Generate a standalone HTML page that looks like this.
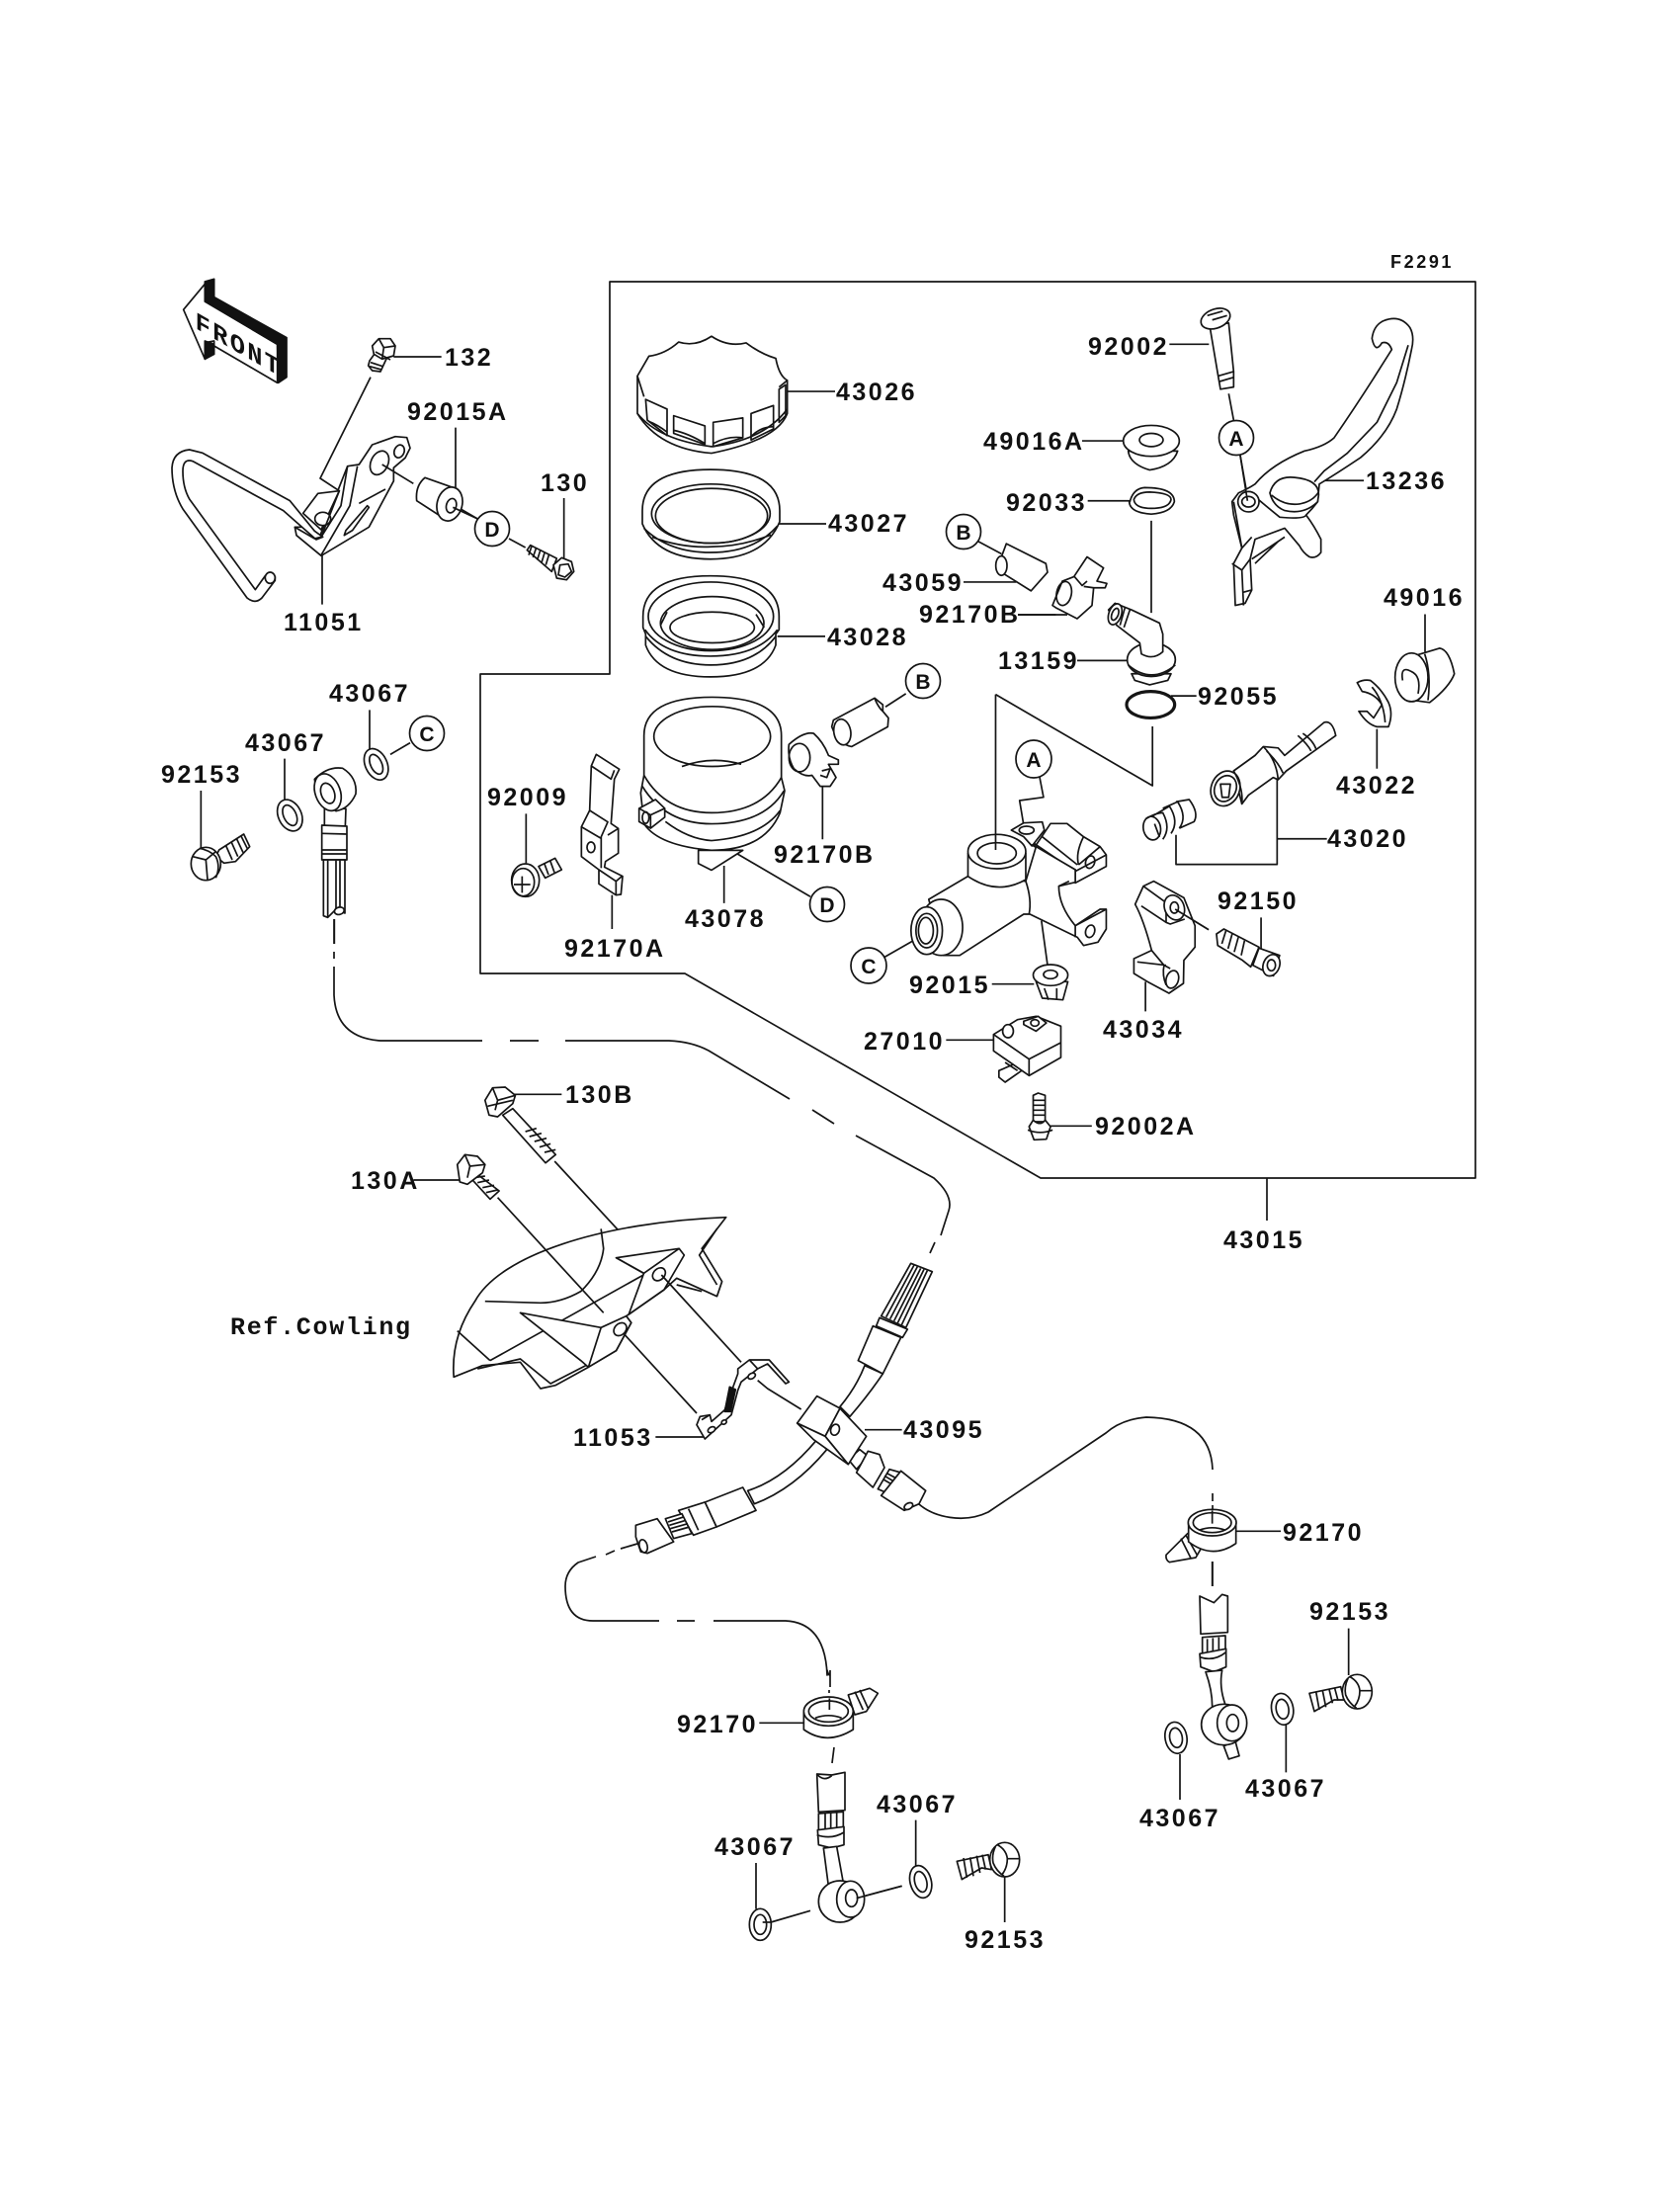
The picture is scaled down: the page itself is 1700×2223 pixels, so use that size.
<!DOCTYPE html>
<html><head><meta charset="utf-8"><title>Front Master Cylinder</title>
<style>
html,body{margin:0;padding:0;background:#fff}
svg{display:block}
svg *{vector-effect:non-scaling-stroke}
svg{fill:#fff;stroke:#151515;stroke-width:1.7;stroke-linejoin:round;stroke-linecap:butt}
.n{fill:none}
.k{fill:#111;stroke:#111}
text{stroke:none;fill:#111;font-family:"Liberation Sans",sans-serif;font-weight:700}
.l{font-size:25px;letter-spacing:2.5px}
.s{font-size:18px;letter-spacing:2.6px}
.m{font-family:"Liberation Mono",monospace;font-size:25px;letter-spacing:1.7px;font-weight:700}
.c{font-size:21px;text-anchor:middle}
</style></head><body>
<svg width="1700" height="2223" viewBox="0 0 1700 2223" xmlns="http://www.w3.org/2000/svg">
<rect x="0" y="0" width="1700" height="2223" style="stroke:none"/>

<!-- Assembly box -->
<g class="n">
<path d="M617,285H1493V1192H1053L693,985H486V682H617Z"/>
<path d="M1282,1192V1235"/>
<!-- upper hose -->
<path d="M338,930V955M338,963V970M338,978V1007Q340,1050 385,1053H488M516,1053H545M572,1053H677Q700,1054 717,1063L799,1112M822,1123L844,1137M866,1149L945,1192Q965,1210 960,1225L952,1250M946,1257L941,1268"/>
<!-- right hose -->
<path d="M930,1522C945,1535 975,1542 1000,1530L1119,1450Q1135,1436 1160,1434Q1225,1435 1227,1487M1227,1511V1519M1227,1523V1542"/>
<path d="M1227,1580V1605"/>
<!-- left hose -->
<path d="M645,1562L628,1567M622,1569L613,1573M603,1575L585,1581Q572,1590 572,1605Q572,1640 600,1640H667M685,1640H703M722,1640H795Q835,1642 837,1695V1690Q840,1700 840,1690M840,1690V1707M839,1710V1713M839,1718V1730"/>
<path d="M844,1768L842,1784"/>
</g>

<!-- ============ ZOOM 1 group ============ -->
<g transform="translate(150,250) scale(.33333)">
<!-- FRONT arrow -->
<path d="M107,190L172,112V165L392,295V412L200,300V285L172,290V340Z"/>
<path class="k" d="M172,105L200,97V152L420,275V395L395,412L392,295L172,165Z"/>
<path class="k" d="M172,285L200,295V325L172,340Z"/>
<text transform="translate(143,246) matrix(1,.57,0,1,0,0)" style="font-family:'Liberation Mono',monospace;font-size:76px;letter-spacing:7px;font-weight:700">FRONT</text>
<!-- bracket plate -->
<path d="M525,937L450,875L445,850L470,850L520,880L605,665L640,660L680,600L750,575L785,578L795,610L780,640L745,670L745,710L670,850Z"/>
<path class="n" d="M635,665L612,785L525,935M605,665L585,785L525,880"/>
<ellipse cx="702" cy="655" rx="26" ry="38" transform="rotate(25 702 655)"/>
<ellipse cx="762" cy="620" rx="15" ry="20" transform="rotate(20 762 620)"/>
<path d="M595,875L600,860L665,785L670,790L620,860Z"/>
<path class="n" d="M640,778L720,735"/>
<path d="M470,808L515,748L580,740L525,858Z"/>
<ellipse cx="530" cy="825" rx="24" ry="20"/>
<!-- rod -->
<path d="M355,998Q370,985 385,1000V1012L345,1065Q325,1085 300,1065L105,795Q72,740 72,670Q75,620 125,615L165,625L430,770L505,862L530,880L510,888L410,800L135,650Q105,640 105,680Q105,730 125,765L325,1040Z"/>
<ellipse cx="370" cy="1004" rx="15" ry="17"/>
<path class="n" d="M445,850L505,885L525,880L580,740L522,702L675,395"/>
<!-- bolt 132 -->
<path d="M672,345L690,320L725,335L705,378L680,375L668,360Z"/>
<path class="n" d="M675,350L712,362M672,362L708,372"/>
<path d="M680,300L700,278L735,278L750,300L745,330L710,340L685,325Z"/>
<path class="n" d="M700,278L715,305L750,300M715,305L710,340M690,318L735,342"/>
<path class="n" d="M745,333H890M528,935V1085M933,548V730M1262,762V945M710,660L805,718M940,790L1000,825M1095,885L1145,912"/>
<!-- bushing -->
<path d="M840,700L925,730L900,825L815,770Q810,725 840,700Z"/>
<ellipse cx="915" cy="780" rx="38" ry="52" transform="rotate(15 915 780)"/>
<ellipse cx="920" cy="785" rx="15" ry="22" transform="rotate(15 920 785)"/>
<path class="n" d="M925,790L1000,825"/>
<!-- bolt 130 -->
<path d="M1150,920L1160,905L1240,945L1225,985Z"/>
<path class="n" d="M1165,905L1155,935M1178,912L1168,942M1191,918L1181,950M1204,925L1194,958M1217,932L1207,965"/>
<path d="M1230,965L1255,943L1285,955L1292,985L1270,1010L1240,1005Z"/>
<path class="n" d="M1250,965L1275,962L1285,985L1265,1002L1245,995Z"/>
</g>
<circle cx="498" cy="535" r="17.5"/>

<!-- ============ ZOOM 2 group ============ -->
<g transform="translate(600,280) scale(.33333,.44643)">
<g class="n"><path d="M590,260H735M565,560H708M560,815H705M1125,692H1285M1290,766H1440M697,1155V1275M398,1335V1420M420,1300L660,1405M888,975L950,945M1170,600L1240,628"/></g>
<!-- cap -->
<path d="M135,225L170,180Q220,175 260,148Q310,160 360,135Q410,160 465,150Q510,175 555,185Q565,225 590,235V310Q560,370 360,400Q200,390 135,310Z"/>
<path class="n" d="M135,225L155,272M590,235L565,250"/>
<path d="M160,278L225,300V360L165,325Z"/><path d="M245,315L340,338V380L245,355Z"/>
<path d="M365,330L455,320V365L365,385Z"/><path d="M480,310L548,292V345L480,370Z"/>
<path d="M565,255L585,245V315L565,330Z"/>
<path class="n" d="M170,328Q195,335 225,352M245,348Q290,355 340,378M365,378Q410,360 455,365M480,362Q510,340 548,340"/>
<path class="n" d="M135,310Q200,370 360,385Q520,370 590,300"/>
<!-- ring 43027 -->
<path d="M150,530Q150,437 357,437Q567,437 567,530V555Q520,640 357,640Q195,640 150,560Z"/>
<ellipse cx="358" cy="537" rx="180" ry="67" class="n"/>
<ellipse cx="360" cy="542" rx="170" ry="62" class="n"/>
<path class="n" d="M155,570Q230,625 357,625Q490,625 560,565M180,590Q270,615 357,612Q450,612 540,585"/>
<!-- ring 43028 -->
<path d="M152,770Q152,678 357,678Q565,678 565,770V800L555,810V835Q520,907 357,907Q195,907 160,835V810L152,795Z"/>
<ellipse cx="358" cy="770" rx="190" ry="78" class="n"/>
<path class="n" d="M158,800Q215,860 357,860Q500,860 560,800M160,815Q230,880 357,880Q490,880 555,815"/>
<ellipse cx="362" cy="785" rx="157" ry="60" class="n"/>
<ellipse cx="362" cy="795" rx="128" ry="35" class="n"/>
<path class="n" d="M205,790L225,760M520,795L495,765"/>
<!-- reservoir -->
<path d="M155,1040Q155,953 362,953Q572,953 572,1040V1135L582,1165L568,1215Q520,1300 360,1300Q200,1290 155,1240L145,1170L155,1130Z"/>
<ellipse cx="362" cy="1042" rx="177" ry="68" class="n"/>
<path class="n" d="M270,1110Q360,1085 450,1105M155,1130Q220,1215 360,1215Q510,1215 572,1135M150,1155Q220,1240 360,1240Q520,1240 580,1165M220,1235Q290,1275 360,1278Q510,1270 568,1210"/>
<path d="M140,1205L190,1185L218,1205V1225L175,1250L140,1235Z"/>
<path class="n" d="M140,1205L175,1220V1250M175,1220L218,1205"/>
<ellipse cx="160" cy="1226" rx="10" ry="13" class="n"/>
<path d="M320,1300V1330L360,1345L455,1300Z"/>
<!-- clamp lower -->
<path d="M595,1060Q640,1030 670,1035Q700,1055 715,1085L745,1095V1105L715,1105L738,1135L720,1155H690L665,1130Q640,1135 610,1115Q590,1090 595,1060Z"/>
<ellipse cx="627" cy="1090" rx="32" ry="32" class="n"/>
<path class="n" d="M695,1120L720,1115L710,1135L690,1130"/>
<!-- tube B lower -->
<path d="M730,1005L855,955L880,970V985L897,1000L895,1020L785,1065Q745,1060 725,1020Z"/>
<ellipse cx="757" cy="1032" rx="25" ry="30" transform="rotate(-25 757 1032)"/>
<path class="n" d="M855,955Q865,975 880,985"/>
<!-- tube B upper -->
<path d="M1240,635L1255,605L1375,650L1380,670L1330,712L1240,670Z"/>
<ellipse cx="1240" cy="655" rx="17" ry="22"/>
</g>
<circle cx="975" cy="538" r="17.5"/><circle cx="934" cy="689" r="17.5"/><circle cx="837" cy="915" r="17.5"/>

<!-- ============ ZOOM 10 group ============ -->
<g transform="translate(480,740) scale(.33333)">
<path class="n" d="M157,250V400M418,497V600"/>
<path d="M355,105L370,70L440,115L425,145L415,280L437,295V370L398,395L395,412L450,440L445,495L430,497L378,463V420L325,380V290L350,240Z"/>
<path class="n" d="M355,105L415,145L425,118M350,240L405,275L385,320V415M325,290L385,325M378,420L430,455L448,440M430,455V497M405,315L437,295"/>
<ellipse cx="354" cy="352" rx="12" ry="16" class="n"/>
<path d="M195,410L245,385L265,420L215,445Z"/>
<path class="n" d="M212,400L225,435M230,392L243,428"/>
<ellipse cx="155" cy="452" rx="42" ry="50"/>
<ellipse cx="148" cy="458" rx="34" ry="42" class="n"/>
<path class="n" d="M120,465H170M145,440V490"/>
</g>

<!-- ============ ZOOM 3 group ============ -->
<g transform="translate(1000,280) scale(.33333,.44643)">
<g class="n"><path d="M550,153H670M730,265L745,325M765,405L785,490M285,372H410M302,508H430M495,553V762M270,870H425M555,950H632M570,1265V1332H877V1130M877,1274H1028M1180,1025V1115M1326,765V850M1140,462H1020M90,766H205"/></g>
<!-- pin 92002 -->
<path d="M672,110L730,105L745,215V250L705,255L698,225Z"/>
<path class="n" d="M698,225L745,215M700,238L745,228"/>
<ellipse cx="690" cy="95" rx="45" ry="22" transform="rotate(-12 690 95)"/>
<path class="n" d="M665,88L712,78M680,98L725,88"/>
<!-- lever -->
<path d="M1165,140Q1170,110 1200,100Q1250,85 1280,115Q1295,135 1285,165Q1265,240 1240,300Q1210,360 1130,410Q1060,445 1005,470L1000,510Q985,525 965,540Q990,565 1010,595V625Q995,640 975,635Q955,625 945,610L900,570L810,595L795,640L800,710L780,740L750,745L745,650L770,615L745,540L740,510L760,490Q790,480 810,470Q860,425 960,395Q1020,385 1050,365Q1110,300 1170,230L1225,165Q1215,145 1195,150Q1175,175 1165,140Z"/>
<path class="n" d="M1275,155L1240,240L1180,330L1090,400L1020,440L990,465M770,615L800,590M800,640L900,590M810,650L880,600M740,650L770,665L775,745M770,665L795,640M775,715L800,710M745,510L770,615M820,505Q860,530 885,545Q960,550 965,540"/>
<path d="M855,490Q870,450 930,455Q1005,460 1003,495L1000,510Q960,540 900,530Q865,520 855,490Z"/>
<path class="n" d="M860,495Q900,520 945,515Q985,510 1003,488"/>
<ellipse cx="790" cy="510" rx="32" ry="23"/>
<ellipse cx="790" cy="510" rx="20" ry="12"/>
<path class="n" d="M765,405L787,508"/>
<!-- 49016A -->
<path d="M425,395Q430,425 490,438Q560,430 575,395Z"/>
<ellipse cx="495" cy="372" rx="85" ry="35"/>
<ellipse cx="495" cy="370" rx="36" ry="15"/>
<!-- circlip -->
<path class="n" d="M430,510Q440,480 475,478Q565,478 565,510Q555,535 495,538Q430,535 428,510ZM442,505Q450,488 490,488Q555,490 555,505Q550,525 495,525Q445,525 442,505Z"/>
<!-- clamp 92170B top -->
<path d="M195,745L225,690L260,680L300,635L350,660L330,690L360,695L355,705L320,705L315,745L270,775L205,750Z"/>
<ellipse cx="230" cy="718" rx="22" ry="28" transform="rotate(25 230 718)" class="n"/>
<path class="n" d="M262,680L285,700L300,690M290,702L320,705"/>
<!-- grommet 13159 -->
<path d="M435,900L445,915L490,925L545,915L555,900Z"/>
<ellipse cx="495" cy="868" rx="73" ry="38"/>
<path class="n" d="M425,880Q495,925 568,880"/>
<path d="M365,755L385,740L435,755L520,785L530,810V850Q500,870 465,855L460,830L390,790Z"/>
<ellipse cx="385" cy="765" rx="18" ry="26" transform="rotate(35 385 765)"/>
<ellipse cx="385" cy="765" rx="9" ry="15" transform="rotate(35 385 765)"/>
<path class="n" d="M415,750L400,790M430,755L412,795"/>
<!-- O-ring -->
<ellipse cx="493" cy="970" rx="73" ry="30" class="n" style="stroke-width:3.2"/>
<!-- spring -->
<path d="M480,1225L600,1185L635,1225L520,1280Z" style="fill:#fff;stroke:none"/>
<ellipse cx="497" cy="1250" rx="25" ry="28" transform="rotate(-45 497 1250)"/>
<path class="n" d="M480,1228Q510,1215 530,1215Q555,1250 530,1275M500,1222L550,1200Q580,1235 555,1262M530,1205L575,1190Q605,1225 580,1250M570,1190L610,1185Q640,1215 625,1235L580,1250M505,1240L520,1270"/>
<!-- piston -->
<path d="M745,1120L810,1085L835,1065L880,1068L900,1085L1020,1010Q1045,1005 1055,1040L905,1120L880,1140L865,1135L790,1175L770,1195Z"/>
<ellipse cx="720" cy="1160" rx="46" ry="38" transform="rotate(-25 720 1160)"/>
<ellipse cx="720" cy="1160" rx="35" ry="28" transform="rotate(-25 720 1160)" class="n"/>
<path d="M705,1150L735,1150L730,1180L710,1180Z" class="n"/>
<path class="n" d="M745,1120Q775,1160 770,1195M835,1065Q875,1095 880,1140M845,1075Q880,1100 895,1125M940,1040Q970,1060 980,1075M955,1035Q985,1050 995,1070"/>
<!-- E-clip -->
<path d="M1120,920Q1140,912 1160,915Q1195,935 1215,965Q1230,990 1215,1020L1180,1020Q1150,1015 1125,985L1150,985L1170,1000L1195,970Q1175,945 1135,940Z"/>
<path class="n" d="M1165,930Q1200,960 1205,1010"/>
<!-- bushing 49016 -->
<path d="M1290,860L1370,842Q1400,845 1415,900Q1400,930 1340,965L1290,960Z"/>
<ellipse cx="1285" cy="908" rx="50" ry="55"/>
<path class="n" d="M1258,915Q1250,880 1285,895Q1315,905 1305,945"/>
<path class="n" d="M1325,855Q1345,900 1335,960"/>
</g>
<circle cx="1251" cy="443" r="17.5"/>

<!-- ============ ZOOM 4 group (non-uniform) ============ -->
<g transform="translate(850,700) scale(.41771,.33333)">
<g class="n"><path d="M108,805L185,750M488,695L505,850M368,887H470M740,880V970M812,660L893,722M1020,685V780M257,1057H372M510,1318H610M483,255L493,320L435,330L447,420"/></g>
<!-- master cylinder body -->
<path d="M415,420L445,398L490,395L495,420L465,468L445,440Z"/>
<path d="M475,465L510,400H550L590,440L630,470L645,495V530L570,580V540L465,465Z"/>
<path class="n" d="M490,440L575,525M470,460L570,545M590,440Q570,490 578,525M578,525L630,470M570,545L645,495"/>
<path d="M310,560L215,630L250,800H290L445,675L460,675L575,745L590,770L625,760L645,720V660L630,660L570,710Q530,650 530,590L570,578V540L475,470L450,575Z"/>
<ellipse cx="245" cy="715" rx="52" ry="85"/>
<ellipse cx="210" cy="725" rx="38" ry="72"/>
<ellipse cx="210" cy="725" rx="26" ry="52" class="n"/>
<ellipse cx="208" cy="725" rx="18" ry="40" class="n"/>
<path class="n" d="M450,575Q465,630 458,675M530,590L555,575M570,710V745M645,660L570,710"/>
<ellipse cx="606" cy="517" rx="11" ry="19" transform="rotate(10 606 517)" class="n"/>
<ellipse cx="606" cy="727" rx="11" ry="19" transform="rotate(10 606 727)" class="n"/>
<path d="M310,490V560Q380,620 450,570V490Z"/>
<ellipse cx="380" cy="485" rx="70" ry="52"/>
<ellipse cx="380" cy="490" rx="47" ry="32"/>
<ellipse cx="452" cy="420" rx="18" ry="12" class="n"/>
<path class="n" d="M377,8V480M377,8L757,285V105"/>
<!-- nut 92015 -->
<path d="M475,880L490,930L540,935L552,880Z"/>
<path class="n" d="M495,900L505,935M525,900L525,935"/>
<ellipse cx="510" cy="860" rx="42" ry="32"/>
<ellipse cx="510" cy="858" rx="17" ry="13"/>
<!-- clamp 43034 -->
<path d="M715,645L735,590L760,575L833,625L860,710V775L833,815L832,885L797,915L745,880L712,855V810L755,785Q735,690 715,645Z"/>
<path class="n" d="M730,650L790,700L800,705L835,690M755,785L785,830L800,840M720,820L790,830M735,590L790,640M790,640V700M785,830Q780,860 790,890"/>
<ellipse cx="810" cy="655" rx="24" ry="38" transform="rotate(-12 810 655)"/>
<ellipse cx="810" cy="655" rx="10" ry="17" class="n"/>
<ellipse cx="805" cy="873" rx="15" ry="27" transform="rotate(10 805 873)" class="n"/>
<path class="n" d="M812,660L893,722"/>
<!-- bolt 92150 -->
<path d="M912,735L930,720L1015,775L995,835L975,815L915,770Z"/>
<path class="n" d="M935,725L925,765M950,735L940,780M965,745L955,790M980,755L972,800"/>
<path d="M1015,778L1065,800L1050,862L1000,830Z"/>
<ellipse cx="1045" cy="830" rx="20" ry="33" transform="rotate(12 1045 830)"/>
<ellipse cx="1045" cy="830" rx="10" ry="17" class="n"/>
<!-- switch -->
<path d="M385,1150L440,1120V1150L400,1185L385,1170Z"/>
<path d="M372,1040L430,995L475,985L535,1015V1110L458,1165L372,1090Z"/>
<path class="n" d="M372,1040L458,1115L535,1065M458,1115V1165M400,1125L430,1150"/>
<path d="M445,1000L480,985L500,1005L475,1030L445,1010Z"/>
<ellipse cx="472" cy="1005" rx="10" ry="10" class="n"/>
<ellipse cx="407" cy="1030" rx="13" ry="20"/>
<!-- screw 92002A -->
<path d="M468,1225L480,1218L497,1225V1305H468Z"/>
<path class="n" d="M468,1240H497M468,1255H497M468,1270H497M468,1285H497"/>
<path d="M458,1320L468,1300Q485,1320 497,1300L510,1320L500,1358L470,1360Z"/>
<path class="n" d="M455,1330Q485,1345 515,1330"/>
</g>
<ellipse cx="1046" cy="768" rx="18" ry="19"/>
<circle cx="879" cy="977" r="18"/>

<!-- Zoom 5 group: cowling, long bolts -->
<g transform="translate(200,1080) scale(.5102,.33333)">
<g class="n">
<path d="M625,82H722M428,342H520M708,285L880,570"/>
</g>
<path d="M1048,455C800,470 600,570 550,710C510,800 505,880 508,940L565,905L640,895L680,975L710,965L775,910L830,860L860,775L850,755L925,675L950,640L1030,695L1040,650L1000,550Z"/>
<path class="n" d="M1030,490L995,570L1030,660M800,490L805,550Q800,620 760,680Q720,715 680,715L570,710M580,890L890,625M555,915L640,885L700,960L770,905M950,660L1000,680"/>
<path d="M830,578L955,550L965,570L925,675L855,750L885,625Z"/>
<path class="n" d="M830,578L885,625L955,550"/>
<ellipse cx="915" cy="628" rx="12" ry="20" transform="rotate(15 915 628)"/>
<path d="M640,745L800,790L850,755L860,775L830,860L775,910L760,890Z"/>
<path class="n" d="M800,790L775,910"/>
<ellipse cx="838" cy="795" rx="12" ry="20" transform="rotate(15 838 795)"/>
<path class="n" d="M595,395L805,745M515,800L580,890"/>
<!-- bolt B -->
<path d="M605,145L625,125L710,265L690,290Z"/>
<path class="n" d="M650,195L672,185M658,210L682,200M668,225L692,215M678,242L700,232M688,258L710,250"/>
<path d="M570,100L585,62L610,60L630,85L625,110L595,150L578,145Z"/>
<path class="n" d="M585,62L595,100L630,85M595,100L590,130M575,118L625,100"/>
<!-- bolt A -->
<path d="M535,325L555,325L598,375L580,400Z"/>
<path class="n" d="M548,335L570,330M555,350L578,342M565,365L588,358M572,380L595,372"/>
<path d="M515,295L530,265L555,270L570,295L565,320L535,355L520,348Z"/>
<path class="n" d="M530,265L540,300L570,295M540,300L535,335"/>
</g>

<!-- Zoom 6 group: 11053, junction -->
<g transform="translate(550,1250) scale(.33333)">
<g class="n">
<path d="M358,120L600,385M245,300L465,540M650,440L680,465L782,528M975,590H1088M340,612H485"/>
</g>
<!-- bracket 11053 -->
<path d="M590,405L625,378H685L745,445L735,450L680,390L650,405L600,445L590,470L570,545L490,618L465,575L475,550L505,545L510,565L550,530L590,420Z"/>
<ellipse cx="632" cy="427" rx="12" ry="8" transform="rotate(-30 632 427)"/>
<ellipse cx="510" cy="590" rx="12" ry="8" transform="rotate(-30 510 590)"/>
<ellipse cx="548" cy="567" rx="8" ry="6" transform="rotate(-30 548 567)"/>
<path class="k" d="M565,460L583,468L568,535L550,535Z"/>
<path class="n" d="M625,378L650,405M480,560L505,545"/>
<!-- upper hose stub -->
<path d="M975,395Q950,460 900,520L930,550Q990,480 1030,420Z"/>
<path d="M1000,275L1085,310L1030,420L955,380Z"/>
<path d="M1020,250L1105,285L1090,310L1010,275Z"/>
<path d="M1115,85L1180,110L1100,280L1025,245Z"/>
<path class="n" d="M1125,90L1040,248M1135,95L1052,254M1145,100L1064,260M1155,103L1075,266M1165,107L1087,272"/>
<!-- lower hose stub -->
<path d="M830,620Q730,740 620,775L640,815Q760,770 860,650Z"/>
<path d="M490,810L605,765L645,835L525,885Z"/>
<path d="M410,835L490,810L525,885L455,910Z"/>
<path class="n" d="M440,830L470,895"/>
<path d="M370,860L420,845L450,905L395,920Z"/>
<path class="n" d="M378,870L425,855M382,880L432,865M385,890L438,875M390,900L443,885"/>
<path d="M280,880L345,860L395,930L315,965L295,960L280,915Z"/>
<ellipse cx="303" cy="943" rx="12" ry="20" transform="rotate(-15 303 943)"/>
<!-- right stub -->
<path d="M925,680L960,650L985,670L950,710Z"/>
<path d="M950,720L985,655L1020,665L1035,705L1000,765Z"/>
<path d="M1015,770L1050,710L1085,720L1050,785Z"/>
<path class="n" d="M1030,740L1065,760M1035,730L1072,752M1042,722L1080,742"/>
<path d="M1025,790L1085,715L1160,775L1140,815L1095,835Z"/>
<ellipse cx="1108" cy="822" rx="14" ry="9" transform="rotate(-30 1108 822)"/>
<!-- block -->
<path d="M770,570L830,488L900,525L855,610Z"/>
<path d="M855,610L900,525L980,610L925,695Z"/>
<path d="M770,570L855,610L925,695L820,620Z"/>
<ellipse cx="885" cy="590" rx="13" ry="17" transform="rotate(20 885 590)"/>
</g>

<!-- Zoom 7 group -->
<g transform="translate(650,1650) scale(.33333)">
<g class="n"><path d="M355,280H493M830,575V715M345,705V845M1100,745V885M650,812L788,775M510,850L390,885"/></g>
<path d="M625,195L690,175L715,190L680,245L645,255Z"/>
<path class="n" d="M645,185L670,240M660,180L685,235"/>
<path d="M490,245V300Q560,350 640,300V245Z"/>
<ellipse cx="565" cy="245" rx="75" ry="44"/>
<ellipse cx="565" cy="245" rx="60" ry="32"/>
<path class="n" d="M525,265Q565,250 605,265M568,205V240"/>
<path d="M530,435L575,438L615,430V545L535,550Z"/>
<path d="M535,555L610,550V600L535,605Z"/>
<path class="n" d="M555,553V603M572,553V603M590,553V603"/>
<path d="M532,605L612,595V650L575,660L535,650Z"/>
<path class="n" d="M530,620Q575,635 612,612M530,435Q550,460 575,440"/>
<path d="M550,660L590,655L610,765L565,775Z"/>
<ellipse cx="600" cy="822" rx="65" ry="63"/>
<ellipse cx="632" cy="815" rx="42" ry="55"/>
<ellipse cx="635" cy="812" rx="18" ry="26"/>
<path class="n" d="M650,812L788,775"/>
<ellipse cx="845" cy="762" rx="32" ry="50" transform="rotate(-15 845 762)"/>
<ellipse cx="845" cy="762" rx="18" ry="32" transform="rotate(-15 845 762)"/>
<ellipse cx="358" cy="892" rx="33" ry="48"/>
<ellipse cx="358" cy="892" rx="19" ry="30"/>
<path class="n" d="M365,885L390,885"/>
<!-- bolt -->
<path d="M955,700L1050,680L1060,725L1030,720L970,755Z"/>
<path class="n" d="M975,690L985,750M995,688L1005,745M1015,683L1025,735M1032,680L1042,725"/>
<ellipse cx="1100" cy="695" rx="45" ry="52"/>
<path class="n" d="M1072,655Q1060,680 1065,705Q1075,730 1098,745M1078,650Q1105,665 1108,692Q1108,720 1092,740M1108,692H1143"/>
</g>

<!-- Zoom 8 group -->
<g transform="translate(1130,1450) scale(.33333)">
<g class="n"><path d="M362,298H498M192,975V1113M514,885V1030M704,593V735M290,390V465"/></g>
<path d="M215,305L150,370Q148,385 160,392L240,378L262,340L235,310Z"/>
<path class="n" d="M195,320L225,380M210,310L245,372"/>
<path d="M218,270V330Q290,385 362,335V270Z"/>
<ellipse cx="290" cy="272" rx="73" ry="40"/>
<ellipse cx="290" cy="272" rx="58" ry="30"/>
<path class="n" d="M250,295Q290,280 330,295M290,235V275"/>
<path d="M252,495L295,515L320,490L337,495V605L255,610Z"/>
<path d="M260,620L330,615V675L260,680Z"/>
<path class="n" d="M275,625V680M292,622V680M310,620V680"/>
<path d="M252,670L332,655V710L295,725L255,710Z"/>
<path class="n" d="M252,680Q295,695 332,665"/>
<path d="M325,950L340,990L372,980L360,935Z"/>
<path d="M270,725L320,720Q310,770 330,825L290,830Q290,780 270,725Z"/>
<ellipse cx="325" cy="885" rx="68" ry="62"/>
<ellipse cx="350" cy="880" rx="45" ry="55"/>
<ellipse cx="352" cy="880" rx="18" ry="26"/>
<ellipse cx="180" cy="925" rx="33" ry="48" transform="rotate(-10 180 925)"/>
<ellipse cx="180" cy="925" rx="19" ry="30" transform="rotate(-10 180 925)"/>
<ellipse cx="503" cy="838" rx="33" ry="48" transform="rotate(-10 503 838)"/>
<ellipse cx="503" cy="838" rx="19" ry="30" transform="rotate(-10 503 838)"/>
<path d="M585,790L680,770L690,810L660,810L600,845Z"/>
<path class="n" d="M605,785L615,840M625,782L635,832M645,778L655,820M662,775L672,812"/>
<ellipse cx="730" cy="785" rx="45" ry="52"/>
<path class="n" d="M702,745Q690,770 695,795Q705,820 728,835M708,740Q735,755 738,782Q738,810 722,830M738,782H773"/>
</g>

<!-- Zoom 9 group -->
<g transform="translate(150,670) scale(.33333)">
<g class="n"><path d="M672,145V265M414,293V420M160,390V568M735,280L795,245M565,780V855"/></g>
<path d="M535,445L600,445L598,500L535,500Z"/>
<path d="M527,495L603,498V600L527,600Z"/>
<path class="n" d="M527,520L603,522M527,570L603,570M527,582L603,582"/>
<path d="M532,600H597V762L570,750L545,775L532,770Z"/>
<path class="n" d="M545,602V775M570,602V750M582,602V745"/>
<ellipse cx="580" cy="755" rx="15" ry="11" transform="rotate(-15 580 755)"/>
<path d="M505,355Q545,315 590,322Q635,350 630,400Q610,445 570,452Q510,420 505,355Z"/>
<ellipse cx="545" cy="395" rx="38" ry="58" transform="rotate(-20 545 395)"/>
<ellipse cx="545" cy="398" rx="20" ry="32" transform="rotate(-20 545 398)"/>
<ellipse cx="692" cy="310" rx="33" ry="50" transform="rotate(-25 692 310)"/>
<ellipse cx="692" cy="310" rx="17" ry="32" transform="rotate(-25 692 310)"/>
<ellipse cx="430" cy="465" rx="35" ry="50" transform="rotate(-25 430 465)"/>
<ellipse cx="430" cy="465" rx="19" ry="33" transform="rotate(-25 430 465)"/>
<path d="M215,570L290,522L308,560L265,605L230,610L205,590Z"/>
<path class="n" d="M235,555L255,600M252,545L272,590M268,535L288,578M282,528L302,568"/>
<ellipse cx="175" cy="612" rx="45" ry="50"/>
<path class="n" d="M155,565Q185,570 205,590Q220,620 205,655M135,590L175,600L180,660M175,600L205,575"/>
</g>
<circle cx="432" cy="742" r="17.5"/>

<!-- Letters in circles -->
<text class="c" x="498" y="543">D</text>
<text class="c" x="975" y="546">B</text>
<text class="c" x="934" y="697">B</text>
<text class="c" x="837" y="923">D</text>
<text class="c" x="1251" y="451">A</text>
<text class="c" x="1046" y="776">A</text>
<text class="c" x="879" y="985">C</text>
<text class="c" x="432" y="750">C</text>

<!-- Labels -->
<text class="s" x="1407" y="271">F2291</text>
<text class="l" x="450" y="370">132</text>
<text class="l" x="412" y="425">92015A</text>
<text class="l" x="547" y="497">130</text>
<text class="l" x="287" y="638">11051</text>
<text class="l" x="846" y="405">43026</text>
<text class="l" x="838" y="538">43027</text>
<text class="l" x="837" y="653">43028</text>
<text class="l" x="995" y="455">49016A</text>
<text class="l" x="1018" y="517">92033</text>
<text class="l" x="893" y="598">43059</text>
<text class="l" x="930" y="630">92170B</text>
<text class="l" x="1010" y="677">13159</text>
<text class="l" x="783" y="873">92170B</text>
<text class="l" x="693" y="938">43078</text>
<text class="l" x="571" y="968">92170A</text>
<text class="l" x="1101" y="359">92002</text>
<text class="l" x="1382" y="495">13236</text>
<text class="l" x="1400" y="613">49016</text>
<text class="l" x="1212" y="713">92055</text>
<text class="l" x="1352" y="803">43022</text>
<text class="l" x="1343" y="857">43020</text>
<text class="l" x="1232" y="920">92150</text>
<text class="l" x="920" y="1005">92015</text>
<text class="l" x="874" y="1062">27010</text>
<text class="l" x="1116" y="1050">43034</text>
<text class="l" x="1108" y="1148">92002A</text>
<text class="l" x="1238" y="1263">43015</text>
<text class="l" x="572" y="1116">130B</text>
<text class="l" x="355" y="1203">130A</text>
<text class="m" x="233" y="1350">Ref.Cowling</text>
<text class="l" x="580" y="1463">11053</text>
<text class="l" x="914" y="1455">43095</text>
<text class="l" x="685" y="1753">92170</text>
<text class="l" x="887" y="1834">43067</text>
<text class="l" x="723" y="1877">43067</text>
<text class="l" x="976" y="1971">92153</text>
<text class="l" x="1298" y="1559">92170</text>
<text class="l" x="1325" y="1639">92153</text>
<text class="l" x="1260" y="1818">43067</text>
<text class="l" x="1153" y="1848">43067</text>
<text class="l" x="333" y="710">43067</text>
<text class="l" x="248" y="760">43067</text>
<text class="l" x="163" y="792">92153</text>
<text class="l" x="493" y="815">92009</text>
</svg>
</body></html>
